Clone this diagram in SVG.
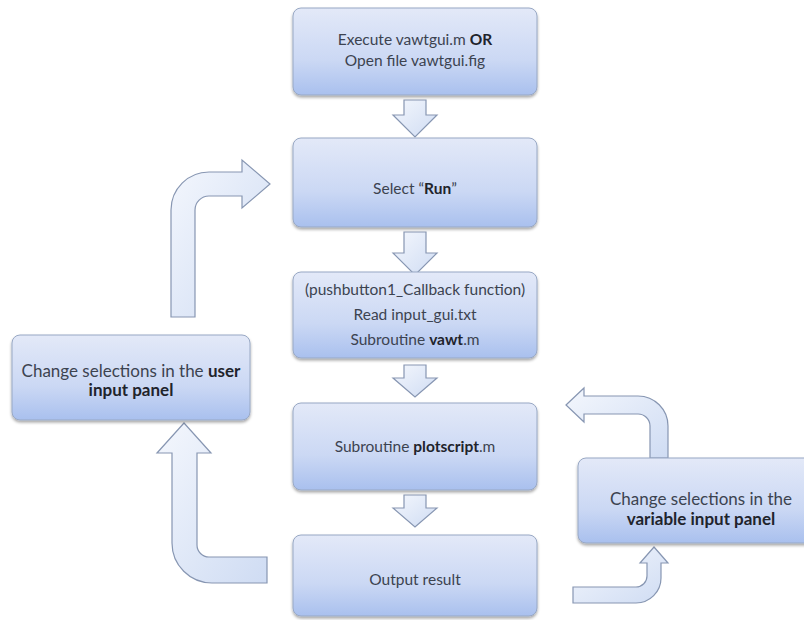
<svg xmlns="http://www.w3.org/2000/svg" width="804" height="620" viewBox="0 0 804 620">
<defs>
<linearGradient id="boxg" x1="0" y1="0" x2="0" y2="1">
<stop offset="0" stop-color="#e3e9f8"/>
<stop offset="0.6" stop-color="#cbd8f4"/>
<stop offset="1" stop-color="#a9c0ee"/>
</linearGradient>
<linearGradient id="arrg" x1="0" y1="0" x2="1" y2="1">
<stop offset="0" stop-color="#f4f7fd"/>
<stop offset="1" stop-color="#cfdcf3"/>
</linearGradient>
<filter id="sh" x="-10%" y="-10%" width="120%" height="130%">
<feGaussianBlur in="SourceAlpha" stdDeviation="1.5"/>
<feOffset dx="0" dy="2" result="b"/>
<feComponentTransfer><feFuncA type="linear" slope="0.35"/></feComponentTransfer>
<feMerge><feMergeNode/><feMergeNode in="SourceGraphic"/></feMerge>
</filter>
</defs>
<style>
.box{fill:url(#boxg);stroke:#98a8c4;stroke-width:1;filter:url(#sh)}
.arr{fill:url(#arrg);stroke:#8796b2;stroke-width:1.2;stroke-linejoin:miter}
text{font-family:Lato,"Open Sans","Liberation Sans",sans-serif;font-size:15.5px;fill:#3c4350;text-anchor:middle}
.side{font-size:17px}
.b{font-weight:bold;fill:#1f242c}
</style>
<rect width="804" height="620" fill="#ffffff"/>
<g id="connectors">
<path class="arr" d="M404,100 L426,100 L426,115 L437,115 L415,137 L393,115 L404,115 Z"/>
<path class="arr" d="M404,232 L426,232 L426,253 L437,253 L415,275 L393,253 L404,253 Z"/>
<path class="arr" d="M404,365 L426,365 L426,378 L437,378 L415,397 L393,378 L404,378 Z"/>
<path class="arr" d="M404,495 L426,495 L426,508 L437,508 L415,527 L393,508 L404,508 Z"/>
<path class="arr" d="M171,317 L171,210 A38,38 0 0 1 209,172 L242,172 L242,160 L270,184 L242,208 L242,196 L209,196 A14,14 0 0 0 195,210 L195,317 Z"/>
<path class="arr" d="M184,423 L211,453 L197,453 L197,545 A12,12 0 0 0 209,557 L267,557 L267,583 L212,583 A40,40 0 0 1 172,543 L172,453 L157,453 Z"/>
<path class="arr" d="M566,405 L584,388 L584,396 L638,396 A30,30 0 0 1 668,426 L668,458 L650,458 L650,426 A12,12 0 0 0 638,414 L584,414 L584,422 Z"/>
<path class="arr" d="M654,547 L668,563 L661,563 L661,578 A25,25 0 0 1 636,603 L573,603 L573,587 L636,587 A11,11 0 0 0 647,576 L647,563 L640,563 Z"/>
</g>
<g id="n1">
<rect class="box" x="293" y="8" width="244" height="87" rx="8"/>
<text x="415" y="45">Execute vawtgui.m <tspan class="b">OR</tspan></text>
<text x="415" y="66">Open file vawtgui.fig</text>
</g>
<g id="n2">
<rect class="box" x="293" y="138" width="244" height="89" rx="8"/>
<text x="415" y="194">Select “<tspan class="b">Run</tspan>”</text>
</g>
<g id="n3">
<rect class="box" x="293" y="272" width="244" height="86" rx="8"/>
<text x="415" y="295">(pushbutton1_Callback function)</text>
<text x="415" y="320">Read input_gui.txt</text>
<text x="415" y="345">Subroutine <tspan class="b">vawt</tspan>.m</text>
</g>
<g id="n4">
<rect class="box" x="293" y="403" width="244" height="87" rx="8"/>
<text x="415" y="452">Subroutine <tspan class="b">plotscript</tspan>.m</text>
</g>
<g id="n5">
<rect class="box" x="293" y="535" width="244" height="81" rx="8"/>
<text x="415" y="585">Output result</text>
</g>
<g id="n6">
<rect class="box" x="12" y="335" width="238" height="85" rx="8"/>
<text class="side" x="131" y="377">Change selections in the <tspan class="b">user</tspan></text>
<text x="131" y="396" class="side b">input panel</text>
</g>
<g id="n7">
<rect class="box" x="578" y="458" width="244" height="85" rx="8"/>
<text class="side" x="701" y="505">Change selections in the</text>
<text x="701" y="525" class="side b">variable input panel</text>
</g>
</svg>
